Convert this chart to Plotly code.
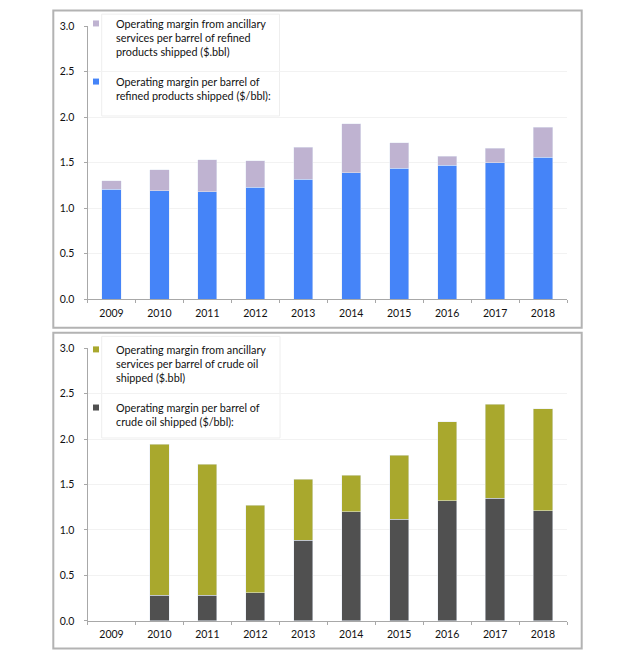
import plotly.graph_objects as go

years = ["2009", "2010", "2011", "2012", "2013", "2014", "2015", "2016", "2017", "2018"]

# Top panel: refined products ($/bbl)
refined_margin = [1.21, 1.19, 1.18, 1.23, 1.32, 1.39, 1.44, 1.47, 1.50, 1.56]
refined_ancillary = [0.09, 0.23, 0.35, 0.29, 0.35, 0.54, 0.28, 0.10, 0.16, 0.33]

# Bottom panel: crude oil ($/bbl)
crude_margin = [None, 0.28, 0.28, 0.31, 0.885, 1.20, 1.12, 1.32, 1.35, 1.21]
crude_ancillary = [None, 1.66, 1.44, 0.96, 0.67, 0.40, 0.70, 0.87, 1.03, 1.12]

names = {
    "ref_anc": "Operating margin from ancillary<br>services per barrel of refined<br>products shipped ($.bbl)",
    "ref": "Operating margin per barrel of<br>refined products shipped ($/bbl):",
    "cru_anc": "Operating margin from ancillary<br>services per barrel of crude oil<br>shipped ($.bbl)",
    "cru": "Operating margin per barrel of<br>crude oil shipped ($/bbl):",
}
colors = {"ref": "#4584f8", "ref_anc": "#bfb3d1", "cru": "#505050", "cru_anc": "#a9a82d"}

W, H = 640, 659
FONT = "Lato"
TXT = "#111111"

def px_x(x):
    return x / W

def px_y(y):
    return 1 - y / H

fig = go.Figure()

# bars
fig.add_trace(go.Bar(x=years, y=refined_margin, marker_color=colors["ref"], name=names["ref"],
                     xaxis="x", yaxis="y", showlegend=False))
fig.add_trace(go.Bar(x=years, y=refined_ancillary, marker_color=colors["ref_anc"], name=names["ref_anc"],
                     xaxis="x", yaxis="y", showlegend=False))
fig.add_trace(go.Bar(x=years, y=crude_margin, marker_color=colors["cru"], name=names["cru"],
                     xaxis="x2", yaxis="y2", showlegend=False))
fig.add_trace(go.Bar(x=years, y=crude_ancillary, marker_color=colors["cru_anc"], name=names["cru_anc"],
                     xaxis="x2", yaxis="y2", showlegend=False))

# legend entries (small square swatches like the original)
for key, xa, ya, lg in [("ref_anc", "x", "y", "legend"), ("ref", "x", "y", "legend"),
                        ("cru_anc", "x2", "y2", "legend2"), ("cru", "x2", "y2", "legend2")]:
    fig.add_trace(go.Scatter(x=[None], y=[None], mode="markers", name=names[key],
                             marker=dict(symbol="square", size=6, color=colors[key]),
                             xaxis=xa, yaxis=ya, legend=lg, legendgroup=key, hoverinfo="skip"))

xdom = [px_x(87.5), px_x(567)]
axis_common = dict(
    showline=True, linecolor="#a8a8a8", linewidth=1,
    ticks="outside", tickcolor="#a8a8a8", ticklen=3,
    tickfont=dict(family=FONT, size=10.5, color=TXT),
)
xcommon = dict(axis_common, type="category", tickson="boundaries", showgrid=False,
               domain=xdom, zeroline=False, ticklabelstandoff=4)
ycommon = dict(axis_common, range=[0, 3], dtick=0.5, tickformat=".1f",
               showgrid=True, gridcolor="#f2f2f2", gridwidth=1, zeroline=False,
               ticklabelstandoff=7)

legend_common = dict(xanchor="left", yanchor="top", bgcolor="rgba(0,0,0,0)", borderwidth=0,
                     traceorder="grouped", tracegroupgap=13, valign="top",
                     font=dict(family=FONT, size=10.8, color=TXT))

fig.update_layout(
    width=W, height=H,
    margin=dict(l=0, r=0, t=0, b=0),
    paper_bgcolor="white", plot_bgcolor="white",
    barmode="stack", bargap=0.6,
    font=dict(family=FONT, size=10.5, color=TXT),
    xaxis=dict(xcommon, anchor="y"),
    yaxis=dict(ycommon, domain=[px_y(298.5), px_y(20.7)], anchor="x"),
    xaxis2=dict(xcommon, anchor="y2"),
    yaxis2=dict(ycommon, domain=[px_y(626.3), px_y(348.4)], anchor="x2"),
    legend=dict(legend_common, x=px_x(76), y=px_y(4)),
    legend2=dict(legend_common, x=px_x(76), y=px_y(336)),
    shapes=[
        dict(type="rect", xref="paper", yref="paper", x0=px_x(53.3), x1=px_x(581.7),
             y0=px_y(327.7), y1=px_y(4.5), line=dict(color="#b3b3b3", width=2), layer="below"),
        dict(type="rect", xref="paper", yref="paper", x0=px_x(53.3), x1=px_x(581.7),
             y0=px_y(654.5), y1=px_y(332.7), line=dict(color="#b3b3b3", width=2), layer="below"),
        dict(type="rect", xref="paper", yref="paper", x0=px_x(101.7), x1=px_x(279.5),
             y0=px_y(112), y1=px_y(8.3), fillcolor="white", line=dict(color="#eeeeee", width=1),
             layer="between"),
        dict(type="rect", xref="paper", yref="paper", x0=px_x(101.7), x1=px_x(280),
             y0=px_y(440), y1=px_y(336.5), fillcolor="white", line=dict(color="#eeeeee", width=1),
             layer="between"),
    ],
)

fig.write_html("out.html", config={"displayModeBar": False},
               post_script="document.body.style.margin='0';document.body.style.overflow='hidden';")
